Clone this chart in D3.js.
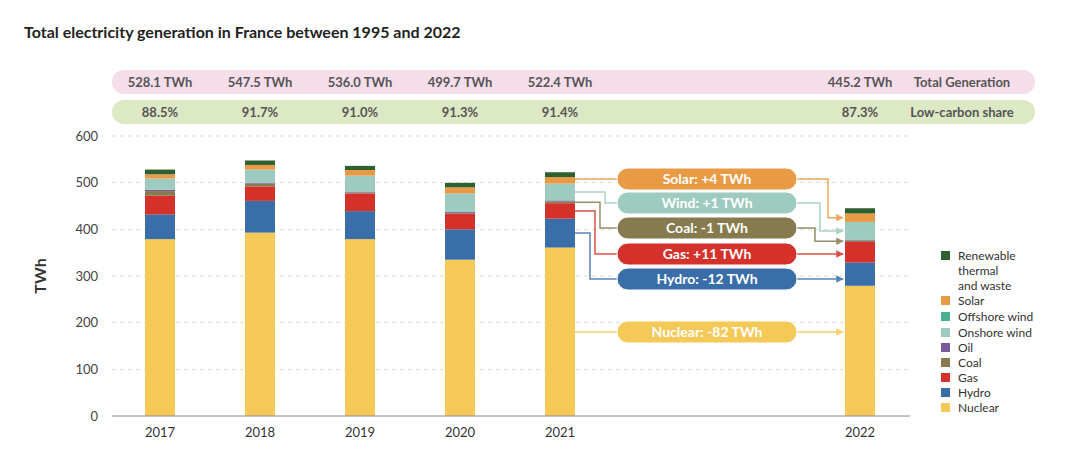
<!DOCTYPE html>
<html><head><meta charset="utf-8">
<script src="https://cdn.jsdelivr.net/npm/d3@7"></script>
<style>body{margin:0;background:#fff;font-family:Lato,sans-serif}</style>
</head><body><svg id="c" width="1090" height="467"></svg>
<script>
const years = ['2017','2018','2019','2020','2021','2022'];
const slots = [0,1,2,3,4,7];
const series = ['Nuclear','Hydro','Gas','Coal','Oil','Onshore wind','Offshore wind','Solar','Renewable thermal and waste'];
const colors = ['#F5C957','#3A6EA8','#D3312A','#877A4E','#7A5A9A','#9DCBBF','#4BAE8F','#E89A45','#2F6130'];
const nuclear = [379,393,379,335,361,279];
const hydro = [53,68,60,65,62,50];
const gas = [40,31,38,34,33,44];
const coal = [10,6,2,1,4,3];
const oil = [3,2,2,2,2,2];
const onshore = [24,28,34,40,36,37];
const offshore = [0,0,0,0,0,1];
const solar = [9,10,12,13,14,18];
const renew = [10.1,9.5,9,9.7,10.4,11.2];
const totals = ['528.1 TWh','547.5 TWh','536.0 TWh','499.7 TWh','522.4 TWh','445.2 TWh'];
const lowCarbon = ['88.5%','91.7%','91.0%','91.3%','91.4%','87.3%'];
const yTicks = [0,100,200,300,400,500,600];
const changes = [
  {key:'Solar', label:'Solar: +4 TWh', cy:179},
  {key:'Onshore wind', label:'Wind: +1 TWh', cy:203},
  {key:'Coal', label:'Coal: -1 TWh', cy:228},
  {key:'Gas', label:'Gas: +11 TWh', cy:254},
  {key:'Hydro', label:'Hydro: -12 TWh', cy:279},
  {key:'Nuclear', label:'Nuclear: -82 TWh', cy:332}
];
const values = [nuclear,hydro,gas,coal,oil,onshore,offshore,solar,renew];

const svg = d3.select('#c');
const x = d3.scaleLinear().domain([0,7]).range([160,860]);
const y = d3.scaleLinear().domain([0,600]).range([416,136]);
const col = d3.scaleOrdinal(series, colors);
const bw = 30;

svg.append('text').attr('x',24).attr('y',38).text('Total electricity generation in France between 1995 and 2022')
  .style('font-weight','700').style('font-size','16px').attr('fill','#222');

// summary pills
svg.append('rect').attr('x',112).attr('y',70).attr('width',923).attr('height',24).attr('rx',12).attr('fill','#F6DDEA');
svg.append('rect').attr('x',112).attr('y',100).attr('width',923).attr('height',24).attr('rx',12).attr('fill','#DDE8C4');
years.forEach((yr,i)=>{
  svg.append('text').attr('x',x(slots[i])).attr('y',87).attr('text-anchor','middle').text(totals[i])
    .style('font-size','13px').style('font-weight','700').attr('fill','#555');
  svg.append('text').attr('x',x(slots[i])).attr('y',117).attr('text-anchor','middle').text(lowCarbon[i])
    .style('font-size','13px').style('font-weight','700').attr('fill','#555');
});
svg.append('text').attr('x',962).attr('y',87).attr('text-anchor','middle').text('Total Generation')
  .style('font-size','13px').style('font-weight','700').attr('fill','#555');
svg.append('text').attr('x',962).attr('y',117).attr('text-anchor','middle').text('Low-carbon share')
  .style('font-size','13px').style('font-weight','700').attr('fill','#555');

// y axis
const ya = svg.append('g').attr('transform','translate(112,0)')
  .call(d3.axisLeft(y).tickValues(yTicks).tickSize(0).tickPadding(14));
ya.select('.domain').remove();
ya.selectAll('text').style('font-size','13px').style('font-family','Lato').attr('fill','#444');
svg.append('g').selectAll('line').data(yTicks.slice(1)).join('line')
  .attr('x1',112).attr('x2',910).attr('y1',d=>y(d)).attr('y2',d=>y(d))
  .attr('stroke','#ddd').attr('stroke-dasharray','4,4');
svg.append('text').attr('transform','translate(46,276) rotate(-90)').attr('text-anchor','middle')
  .text('TWh').style('font-size','16px').style('font-weight','700').attr('fill','#333');

// bars
const rows = years.map((yr,i)=>{const r={year:yr,slot:slots[i]}; series.forEach((s,k)=>r[s]=values[k][i]); return r;});
const stacked = d3.stack().keys(series)(rows);
svg.append('g').selectAll('g').data(stacked).join('g').attr('fill',d=>col(d.key))
  .selectAll('rect').data(d=>d).join('rect')
  .attr('x',d=>x(d.data.slot)-bw/2).attr('width',bw)
  .attr('y',d=>y(d[1])).attr('height',d=>y(d[0])-y(d[1]));

svg.append('line').attr('x1',112).attr('x2',910).attr('y1',y(0)).attr('y2',y(0)).attr('stroke','#888');
years.forEach((yr,i)=>svg.append('text').attr('x',x(slots[i])).attr('y',437).attr('text-anchor','middle')
  .text(yr).style('font-size','13px').attr('fill','#333'));

// change annotations
const mid = (key,i)=>{const s=stacked.find(d=>d.key===key)[i]; return y((s[0]+s[1])/2);};
const pl = 617, pr = 797, ph = 22;
const x21 = x(4)+bw/2, x22 = x(7)-bw/2;
const leftElbow = [null,605,600,595,590,null];
const rightElbow = [828,820,815,null,null,null];
const defs = svg.append('defs');
changes.forEach((c,k)=>{
  const cl = col(c.key);
  defs.append('marker').attr('id','m'+k).attr('viewBox','0 0 10 10').attr('refX',9).attr('refY',5)
    .attr('markerWidth',5).attr('markerHeight',5).attr('orient','auto')
    .append('path').attr('d','M0,0L10,5L0,10z').attr('fill',cl);
  const y0 = c.key==='Nuclear' ? c.cy : mid(c.key,4);
  const y1 = mid(c.key,5);
  let lp = leftElbow[k] ? `M${x21},${y0}H${leftElbow[k]}V${c.cy}H${pl}` : `M${x21},${y0}V${c.cy}H${pl}`;
  let rp = rightElbow[k] ? `M${pr},${c.cy}H${rightElbow[k]}V${y1}H${x22-2}` : `M${pr},${c.cy}H${x22-2}`;
  if(c.key==='Nuclear') rp = `M${pr},${c.cy}H${x22-2}`;
  svg.append('path').attr('d',lp).attr('fill','none').attr('stroke',cl).attr('stroke-width',1.5).attr('opacity',0.85);
  svg.append('path').attr('d',rp).attr('fill','none').attr('stroke',cl).attr('stroke-width',1.5).attr('opacity',0.85)
    .attr('marker-end',`url(#m${k})`);
  svg.append('rect').attr('x',pl).attr('y',c.cy-ph/2).attr('width',pr-pl).attr('height',ph).attr('rx',11)
    .attr('fill',cl).attr('stroke','#fff').attr('stroke-width',1);
  svg.append('text').attr('x',(pl+pr)/2).attr('y',c.cy+5).attr('text-anchor','middle').text(c.label)
    .style('font-size','14px').style('font-weight','700').attr('fill','#fff');
});

// legend
const legendRows = [...series].reverse();
const ly = [260,305,321,337,352,367,382,397,412];
legendRows.forEach((s,i)=>{
  svg.append('rect').attr('x',941).attr('y',ly[i]-9).attr('width',9).attr('height',9).attr('fill',col(s));
  const lines = s==='Renewable thermal and waste' ? ['Renewable','thermal','and waste'] : [s];
  lines.forEach((t,j)=>svg.append('text').attr('x',958).attr('y',ly[i]+j*15).text(t)
    .style('font-size','12px').attr('fill','#333'));
});
</script></body></html>
